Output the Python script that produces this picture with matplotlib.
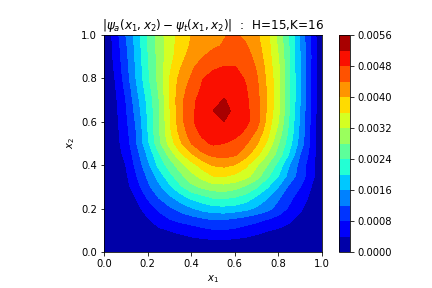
import numpy as np
import matplotlib
matplotlib.use('Agg')
import matplotlib.pyplot as plt

x1 = [i / 20 for i in range(21)]
x2 = [i / 20 for i in range(21)]
levels = [i * 0.0004 for i in range(15)]
cbar_ticks = [i * 0.0008 for i in range(8)]

r000 = [0] * 21
r005 = [0,.00001,.00003,.00006,.0001,.00014,.00018,.00023,.00028,.00031,.00033,.00033,.00031,.00027,.00022,.00018,.00014,.0001,.00006,.00002,0]
r010 = [0,.00002,.00005,.00012,.00024,.00033,.00041,.00049,.00058,.00068,.00076,.00078,.00072,.00062,.00052,.00042,.00034,.00026,.00018,.00007,0]
r015 = [0,.00003,.00008,.00018,.00036,.00058,.00078,.00092,.00102,.00112,.00122,.00121,.00112,.00102,.00092,.00079,.00066,.00048,.00028,.0001,0]
r020 = [0,.00005,.00012,.00028,.00058,.00088,.00112,.00134,.00155,.00173,.00185,.00187,.00182,.00172,.00153,.00132,.00105,.00073,.00047,.00015,0]
r025 = [0,.00007,.00018,.00043,.00084,.0012,.0015,.0018,.00208,.00225,.00242,.00244,.00238,.00222,.00192,.00162,.00125,.00092,.00058,.00032,0]
r030 = [0,.0001,.00025,.00064,.0011,.00148,.00191,.00232,.00268,.00288,.00302,.00305,.00295,.00273,.00245,.00203,.0016,.00112,.0008,.0004,0]
r035 = [0,.00012,.00032,.0008,.00126,.00175,.00225,.00268,.00305,.00335,.0036,.00362,.00352,.00335,.00298,.00247,.002,.00143,.00102,.00057,0]
r040 = [0,.00015,.0004,.00092,.00148,.0021,.00257,.00302,.00343,.00375,.00402,.00408,.00398,.00368,.00325,.00279,.00226,.0016,.00105,.00055,0]
r045 = [0,.0002,.0005,.00104,.00167,.00232,.00293,.00351,.00393,.00432,.0045,.00455,.00447,.00415,.00372,.00319,.00262,.00195,.0012,.00065,0]
r050 = [0,.00024,.00058,.0012,.0019,.00265,.00333,.00392,.0044,.0047,.00485,.0048,.00468,.00445,.00405,.00352,.00282,.00215,.00143,.0007,0]
r055 = [0,.00024,.00065,.00122,.00197,.00272,.0035,.00412,.00462,.00488,.00505,.00508,.00495,.00472,.00432,.00372,.00303,.00228,.00148,.00072,0]
r060 = [0,.00025,.0007,.00128,.002,.00272,.00352,.00425,.00472,.00503,.00515,.0052,.00508,.0049,.00458,.00385,.0032,.00235,.00153,.00072,0]
r065 = [0,.00028,.00075,.00136,.00205,.00274,.00355,.00427,.0047,.005,.0052,.00535,.0051,.0049,.00458,.00392,.00328,.0024,.00157,.00073,0]
r070 = [0,.0003,.0008,.00145,.0021,.00275,.0036,.00428,.00468,.00495,.00508,.00522,.0051,.00488,.00455,.00395,.00332,.00245,.0016,.00073,0]
r075 = [0,.00035,.00088,.00155,.0022,.00283,.0036,.00422,.00456,.00485,.005,.00508,.005,.00483,.0045,.00393,.00332,.00245,.0016,.00073,0]
r080 = [0,.0004,.00098,.00165,.0023,.00291,.0036,.00412,.00444,.00478,.00492,.00497,.00492,.00477,.00445,.0039,.00331,.00245,.0016,.00073,0]
r085 = [0,.00045,.00103,.00168,.00233,.00292,.00352,.00398,.00432,.0046,.00475,.00482,.00482,.00469,.00436,.00385,.00327,.00243,.0016,.00077,0]
r090 = [0,.0005,.00108,.00172,.00236,.00292,.00343,.00385,.00417,.00437,.00458,.00465,.00466,.0046,.00425,.00379,.0032,.0024,.0016,.0008,0]
r095 = [0,.00052,.00113,.00175,.0024,.00295,.00342,.00378,.00405,.00418,.00432,.00444,.00452,.00445,.00415,.00375,.00313,.00238,.00157,.00076,0]
r100 = [0,.00058,.0012,.00178,.00243,.00298,.00342,.00373,.004,.00411,.00425,.00437,.00447,.00428,.00407,.00371,.00306,.00235,.00153,.00072,0]

z = np.array([r000, r005, r010, r015, r020, r025, r030, r035, r040, r045, r050,
              r055, r060, r065, r070, r075, r080, r085, r090, r095, r100])

fig = plt.figure(figsize=(6, 4), dpi=72)
ax = fig.add_axes([104 / 432, (288 - 252) / 288, 218 / 432, 217 / 288])
cf = ax.contourf(x1, x2, z, levels=levels, cmap='jet')
ax.set_xlim(0, 1)
ax.set_ylim(0, 1)
ax.set_xlabel(r'$x_1$')
ax.set_ylabel(r'$x_2$')
ax.set_title(r'$|\psi_a(x_1,x_2)-\psi_t(x_1,x_2)|$  :  H=15,K=16')
cax = fig.add_axes([339 / 432, (288 - 252) / 288, 11 / 432, 217 / 288])
cb = fig.colorbar(cf, cax=cax, ticks=cbar_ticks)
cb.ax.set_yticklabels([f'{t:.4f}' for t in cbar_ticks])
fig.savefig('out.png', dpi=72)
